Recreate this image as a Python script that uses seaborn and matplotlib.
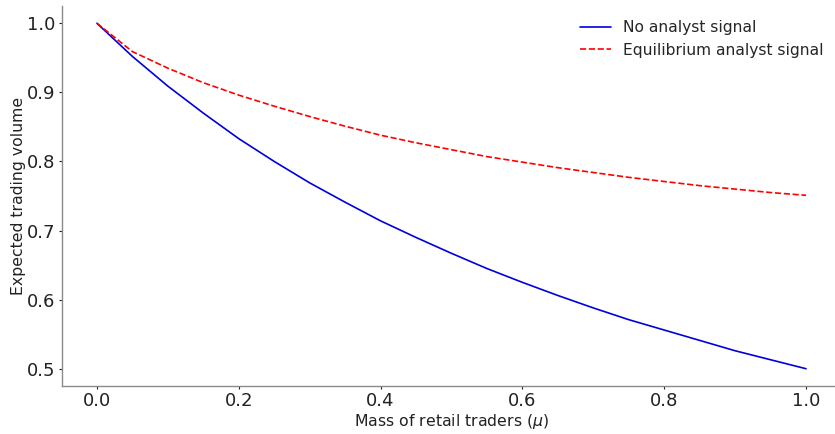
import numpy as np
import pandas as pd
import matplotlib
matplotlib.use("Agg")
import matplotlib.pyplot as plt
import seaborn as sns

mu = [0.00, 0.05, 0.10, 0.15, 0.20, 0.25, 0.30, 0.35, 0.40, 0.45, 0.50,
      0.55, 0.60, 0.65, 0.70, 0.75, 0.80, 0.85, 0.90, 0.95, 1.00]
no_signal = [1.000, 0.952, 0.909, 0.870, 0.833, 0.800, 0.769, 0.741, 0.714, 0.690, 0.667,
             0.645, 0.625, 0.606, 0.588, 0.571, 0.556, 0.541, 0.526, 0.513, 0.500]
eq_signal = [1.000, 0.959, 0.935, 0.914, 0.896, 0.880, 0.865, 0.851, 0.838, 0.827, 0.817,
             0.807, 0.799, 0.791, 0.784, 0.777, 0.771, 0.765, 0.760, 0.755, 0.751]
series_names = ["No analyst signal", "Equilibrium analyst signal"]

sns.set_style("ticks")
plt.rcParams['font.family'] = ['DejaVu Sans']

fig = plt.figure(figsize=(8.35, 4.34), dpi=100)
ax = fig.add_axes([61.5 / 835, 48 / 434, 780 / 835, 380 / 434])

sns.lineplot(x=mu, y=no_signal, ax=ax, color="#0000dd", linewidth=1.2,
             label=series_names[0])
sns.lineplot(x=mu, y=eq_signal, ax=ax, color="#ff0000", linewidth=1.2,
             linestyle="--", label=series_names[1])

ax.set_xlim(-0.05, 1.05)
ax.set_ylim(0.475, 1.025)
ax.set_xticks([0.0, 0.2, 0.4, 0.6, 0.8, 1.0])
ax.set_yticks([0.5, 0.6, 0.7, 0.8, 0.9, 1.0])
ax.set_xlabel(r"Mass of retail traders ($\mu$)", fontsize=11.3, color="#222222",
              labelpad=1)
ax.set_ylabel("Expected trading volume", fontsize=11.3, color="#222222",
              labelpad=0.5)
ax.tick_params(labelsize=13, colors="#222222", length=2.5, width=0.8, pad=2)
for s in ["left", "bottom"]:
    ax.spines[s].set_color("#8a8a8a")
    ax.spines[s].set_linewidth(1.0)
sns.despine(ax=ax)

leg = ax.legend(loc="upper right", frameon=False, fontsize=11.2,
                bbox_to_anchor=(0.995, 1.0))

fig.savefig("out.png", dpi=100)
